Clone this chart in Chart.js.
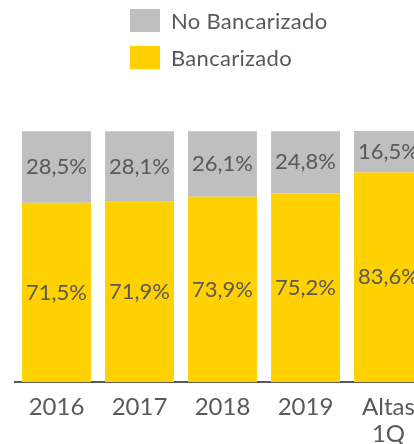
<!DOCTYPE html>
<html>
<head>
<meta charset="utf-8">
<script src="https://cdn.jsdelivr.net/npm/chart.js@4/dist/chart.umd.min.js"></script>
<style>
	html, body { margin: 0; padding: 0; background: #fff; }
	body { width: 414px; height: 444px; overflow: hidden; position: relative; font-family: Lato, sans-serif; }
	#chart-wrap { position: absolute; left: 0; top: 0; width: 440px; height: 460px; }
	#legend { position: absolute; left: 130px; top: 9px; margin: 0; padding: 0; list-style: none; }
	#legend li { height: 23px; margin-bottom: 14px; display: flex; align-items: center; color: #595959; font-size: 22px; letter-spacing: 0.3px; }
	#legend span.box { display: inline-block; width: 30px; height: 23px; margin-right: 11px; }
</style>
</head>
<body>
<div id="chart-wrap"><canvas id="chart"></canvas></div>
<ul id="legend"></ul>
<script>
var categories = ['2016', '2017', '2018', '2019', ['Altas', '1Q']];
var bancarizado = [71.5, 71.9, 73.9, 75.2, 83.6];
var noBancarizado = [28.5, 28.1, 26.1, 24.8, 16.5];

var textColor = '#595959';

// writes the value in the middle of every bar segment
var barValues = {
	id: 'barValues',
	afterDatasetsDraw: function(chart) {
		var ctx = chart.ctx;
		ctx.save();
		ctx.font = '22px Lato';
		ctx.fillStyle = textColor;
		ctx.textAlign = 'center';
		ctx.textBaseline = 'middle';
		chart.data.datasets.forEach(function(dataset, i) {
			chart.getDatasetMeta(i).data.forEach(function(bar, j) {
				var p = bar.getCenterPoint();
				var text = dataset.data[j].toFixed(1).replace('.', ',') + '%';
				ctx.fillText(text, p.x, p.y);
			});
		});
		ctx.restore();
	}
};

var chart = new Chart(document.getElementById('chart'), {
	type: 'bar',
	data: {
		labels: categories,
		datasets: [{
			label: 'Bancarizado',
			data: bancarizado,
			backgroundColor: '#FFD100'
		}, {
			label: 'No Bancarizado',
			data: noBancarizado,
			backgroundColor: '#BFBFBF'
		}]
	},
	options: {
		responsive: true,
		maintainAspectRatio: false,
		animation: false,
		layout: {
			padding: { top: 131, left: 15, right: 10, bottom: 1 }
		},
		plugins: {
			legend: { display: false },
			tooltip: { enabled: false }
		},
		datasets: {
			bar: { categoryPercentage: 1, barPercentage: 0.83 }
		},
		scales: {
			x: {
				stacked: true,
				grid: { display: false, drawTicks: false },
				border: { display: true, color: textColor, width: 2 },
				ticks: {
					color: textColor,
					padding: 12,
					font: { family: 'Lato', size: 24, lineHeight: 1.1 }
				}
			},
			y: {
				stacked: true,
				display: false,
				min: 0,
				max: 100.1
			}
		}
	},
	plugins: [barValues]
});

// legend lists the top segment first
var $legend = document.getElementById('legend');
chart.data.datasets.slice().reverse().forEach(function(ds) {
	var li = document.createElement('li');
	var box = document.createElement('span');
	box.className = 'box';
	box.style.background = ds.backgroundColor;
	li.appendChild(box);
	li.appendChild(document.createTextNode(ds.label));
	$legend.appendChild(li);
});
</script>
</body>
</html>
